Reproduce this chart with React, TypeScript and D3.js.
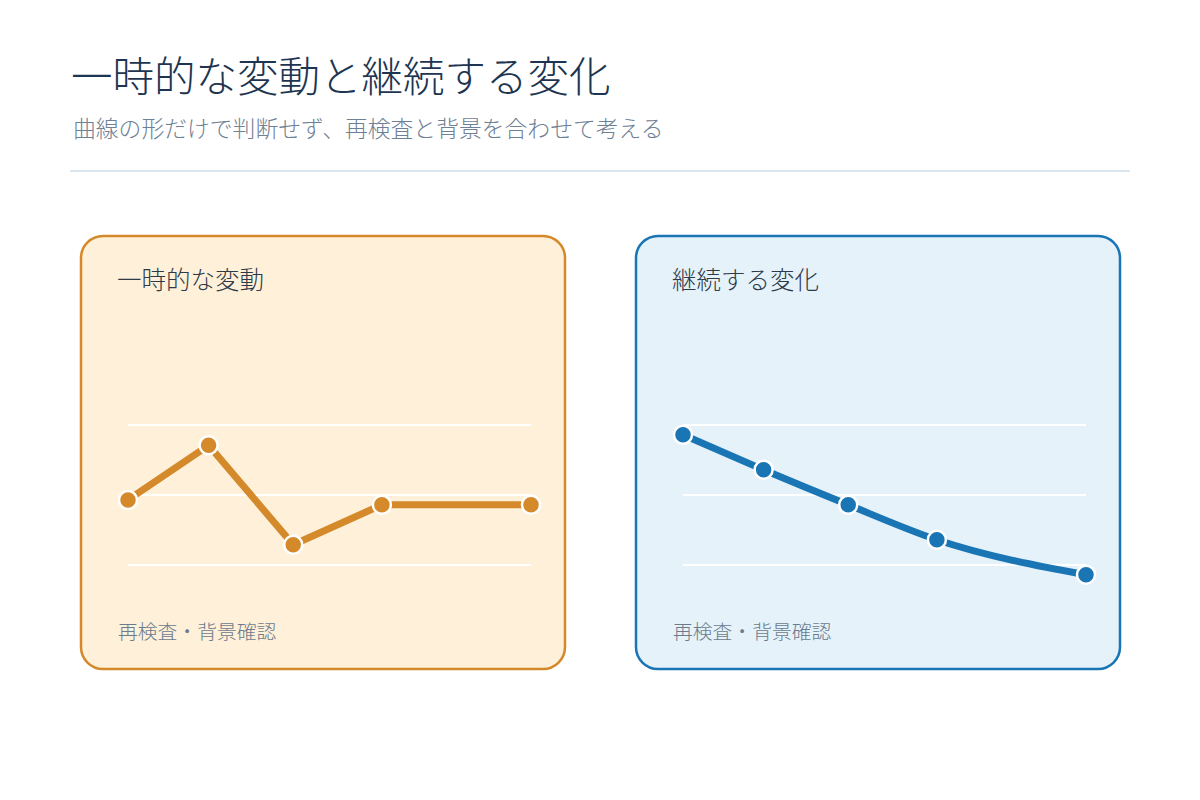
import React from "react";
import * as d3 from "d3";

const TITLE = "一時的な変動と継続する変化";
const SUBTITLE = "曲線の形だけで判断せず、再検査と背景を合わせて考える";
const FOOTNOTE = "再検査・背景確認";

const panelTitles = ["一時的な変動", "継続する変化"];
const panelColors = ["#D4892A", "#1A75B4"];
const panelFills = ["#FEF0D9", "#E5F2FA"];

const timePoints = [0, 20, 41, 63, 100];
const temporaryValues = [1.93, 2.71, 1.29, 1.86, 1.86];
const sustainedValues = [2.86, 2.36, 1.86, 1.36, 0.86];
const gridValues = [1, 2, 3];

const series = [temporaryValues, sustainedValues];

export default function App() {
  const W = 1200;
  const H = 800;
  const panelW = 484;
  const panelH = 433;
  const panelY = 236;
  const panelXs = [81, 636];

  return (
    <svg
      width={W}
      height={H}
      viewBox={`0 0 ${W} ${H}`}
      style={{ display: "block", position: "absolute", left: 0, top: 0, background: "#fff" }}
      fontFamily="'Noto Sans CJK JP', 'Noto Sans', sans-serif"
    >
      <rect x={0} y={0} width={W} height={H} fill="#ffffff" />
      <text x={71} y={92} fontSize={41.5} fill="#1D3550" fontWeight={300}>
        {TITLE}
      </text>
      <text x={73} y={137} fontSize={22.8} fill="#6E8094" fontWeight={300}>
        {SUBTITLE}
      </text>
      <line x1={70} x2={1130} y1={171} y2={171} stroke="#DCE6EF" strokeWidth={2} />

      {panelXs.map((px, i) => {
        const x = d3.scaleLinear().domain([0, 100]).range([px + 47, px + 450]);
        const y = d3.scaleLinear().domain([1, 3]).range([565, 425]);
        const line = d3
          .line<number>()
          .x((_, j) => x(timePoints[j]))
          .y((d) => y(d))
          .curve(i === 0 ? d3.curveLinear : d3.curveMonotoneX);
        const vals = series[i];
        return (
          <g key={i}>
            <rect
              x={px}
              y={panelY}
              width={panelW}
              height={panelH}
              rx={22}
              ry={22}
              fill={panelFills[i]}
              stroke={panelColors[i]}
              strokeWidth={2.5}
            />
            <text x={px + 36} y={289} fontSize={24.5} fill="#2E3A48" fontWeight={300}>
              {panelTitles[i]}
            </text>
            {gridValues.map((g) => (
              <line
                key={g}
                x1={x(0)}
                x2={x(100)}
                y1={y(g)}
                y2={y(g)}
                stroke="#ffffff"
                strokeWidth={2}
              />
            ))}
            <path
              d={line(vals) || ""}
              fill="none"
              stroke={panelColors[i]}
              strokeWidth={7}
              strokeLinejoin="round"
            />
            {vals.map((v, j) => (
              <circle
                key={j}
                cx={x(timePoints[j])}
                cy={y(v)}
                r={9}
                fill={panelColors[i]}
                stroke="#ffffff"
                strokeWidth={2.5}
              />
            ))}
            <text x={px + 37} y={639} fontSize={19.8} fill="#6B7A8C" fontWeight={300}>
              {FOOTNOTE}
            </text>
          </g>
        );
      })}
    </svg>
  );
}
